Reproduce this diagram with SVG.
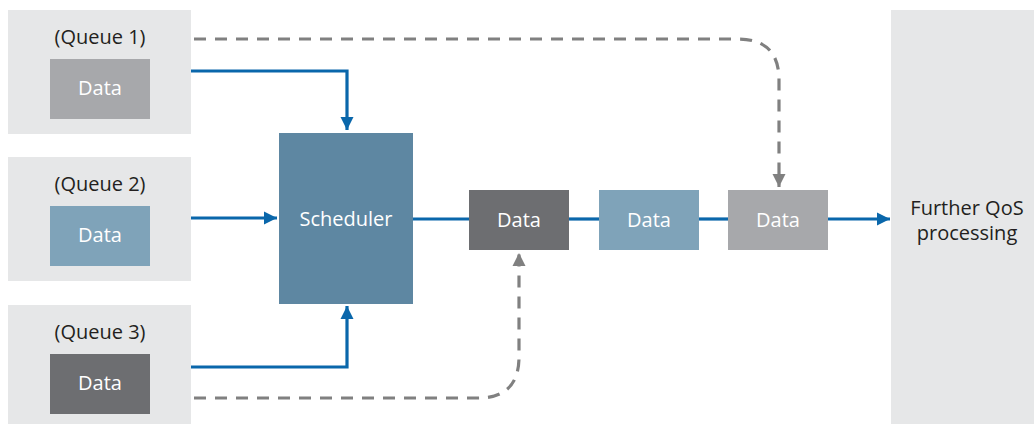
<svg xmlns="http://www.w3.org/2000/svg" width="1034" height="424" viewBox="0 0 1034 424">
<defs>
<marker id="ab" viewBox="0 0 10 10" refX="10" refY="5" markerWidth="4.2" markerHeight="4.2" markerUnits="strokeWidth" orient="auto"><path d="M0,0 L10,5 L0,10 z" fill="#0a67ab"/></marker>
<marker id="ag" viewBox="0 0 10 10" refX="10" refY="5" markerWidth="4.2" markerHeight="4.2" markerUnits="strokeWidth" orient="auto"><path d="M0,0 L10,5 L0,10 z" fill="#808080"/></marker>
</defs>
<style>
.bg{fill:#e6e7e8}
.t{font-family:"Open Sans","Liberation Sans",sans-serif;font-size:20px;text-anchor:middle}
.k{fill:#231f20}
.w{fill:#ffffff}
.b{fill:none;stroke:#0a67ab;stroke-width:3.2}
.d{fill:none;stroke:#808080;stroke-width:3.2;stroke-dasharray:12 9}
</style>
<rect width="1034" height="424" fill="#ffffff"/>
<g id="queue1">
<rect class="bg" x="8" y="10" width="183" height="124"/>
<text class="t k" x="100" y="44">(Queue 1)</text>
<rect x="50" y="59" width="100" height="60" fill="#a7a8ab"/>
<text class="t w" x="100" y="95">Data</text>
</g>
<g id="queue2">
<rect class="bg" x="8" y="157" width="183" height="124"/>
<text class="t k" x="100" y="191">(Queue 2)</text>
<rect x="50" y="206" width="100" height="60" fill="#7fa3b9"/>
<text class="t w" x="100" y="242">Data</text>
</g>
<g id="queue3">
<rect class="bg" x="8" y="305" width="183" height="119"/>
<text class="t k" x="100" y="339">(Queue 3)</text>
<rect x="50" y="354" width="100" height="60" fill="#6d6e71"/>
<text class="t w" x="100" y="390">Data</text>
</g>
<g id="scheduler">
<rect x="279" y="133" width="134" height="171" fill="#5e87a2"/>
<text class="t w" x="346" y="226">Scheduler</text>
</g>
<g id="data-a">
<rect x="469" y="190" width="100" height="60" fill="#6d6e71"/>
<text class="t w" x="519" y="227">Data</text>
</g>
<g id="data-b">
<rect x="599" y="190" width="100" height="60" fill="#7fa3b9"/>
<text class="t w" x="649" y="227">Data</text>
</g>
<g id="data-c">
<rect x="728" y="190" width="100" height="60" fill="#a7a8ab"/>
<text class="t w" x="778" y="227">Data</text>
</g>
<g id="further">
<rect class="bg" x="891" y="10" width="143" height="414"/>
<text class="t k" x="967" y="215">Further QoS</text>
<text class="t k" x="967" y="240">processing</text>
</g>
<g id="connectors">
<path class="b" d="M191,71 H347 V130" marker-end="url(#ab)"/>
<path class="b" d="M191,218 H277" marker-end="url(#ab)"/>
<path class="b" d="M191,367 H347 V306" marker-end="url(#ab)"/>
<path class="b" d="M413,219 H469"/>
<path class="b" d="M569,219 H599"/>
<path class="b" d="M699,219 H728"/>
<path class="b" d="M828,219 H890" marker-end="url(#ab)"/>
<path class="d" d="M194,39 H738 Q779,39 779,80 V187" marker-end="url(#ag)"/>
<path class="d" d="M194,398 H478 Q519,398 519,357 V253" marker-end="url(#ag)"/>
</g>
</svg>
